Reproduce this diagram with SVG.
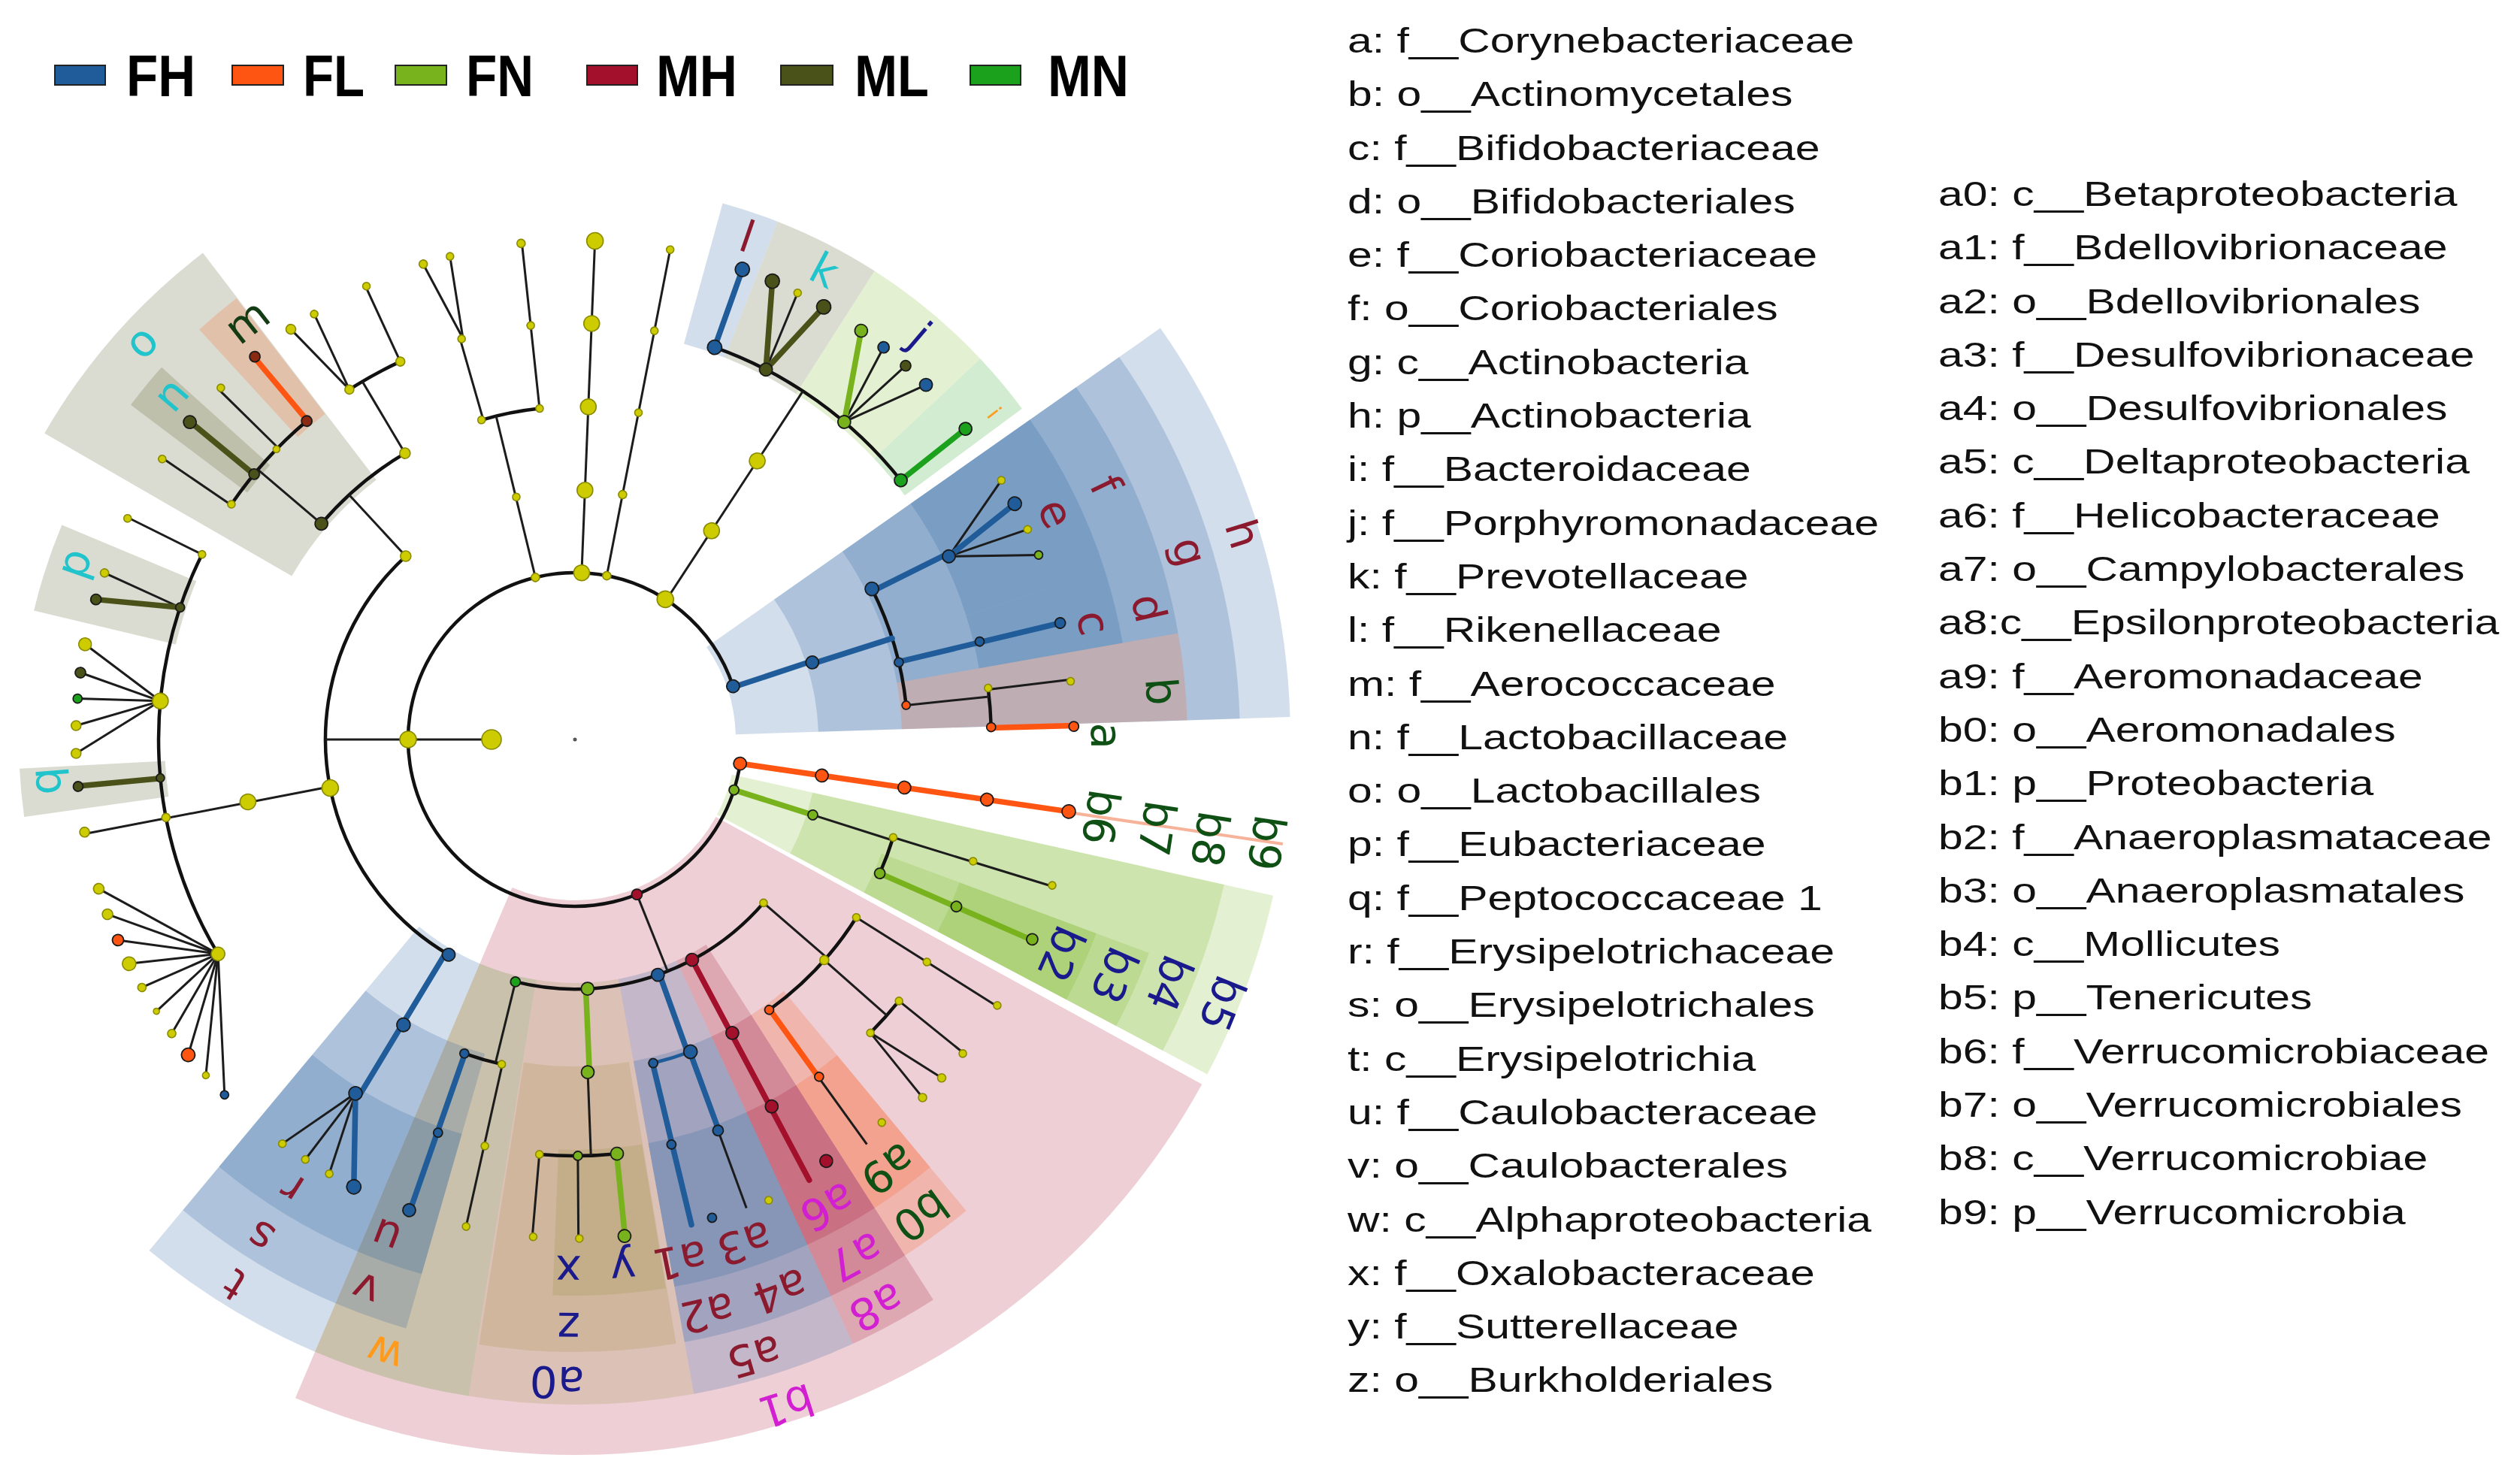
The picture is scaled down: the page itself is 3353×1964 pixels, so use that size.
<svg xmlns="http://www.w3.org/2000/svg" width="3353" height="1964" viewBox="0 0 3353 1964">
<style>
.wd{fill:none;stroke-opacity:0.2}
.ln{stroke:#1c1c1c;stroke-width:3;fill:none}
.ac{fill:none;stroke:#111;stroke-width:4.5}
.tk{stroke-width:7.5;stroke-linecap:round;fill:none}
.sFH{stroke:#1f5c99}.sFL{stroke:#ff5512}.sFN{stroke:#78b31e}.sMH{stroke:#a3102c}.sML{stroke:#4a5219}.sMN{stroke:#1ba11b}.sWW{stroke:#3f8a08}.sKK{stroke:#9a8a3a}
.n{stroke:#1a1a1a;stroke-width:1.8}
.fFH{fill:#1f5c99}.fFL{fill:#ff5512}.fFN{fill:#78b31e}.fMH{fill:#a3102c}.fML{fill:#4a5219}.fMN{fill:#1ba11b}.fBR{fill:#8a2a12}
.Y{fill:#cccc00;stroke:#8a8a00;stroke-width:1.6}
.lb{font-family:"DejaVu Sans",Verdana,sans-serif;font-size:58px;text-anchor:middle;dominant-baseline:central}
.dr{fill:#8b1a2e}.dg{fill:#0f5014}.nv{fill:#1a1a8c}.cy{fill:#22c4cc}.mg{fill:#d21fd2}.or{fill:#ff9a1a}.mk{fill:#143c14}
.li{font-family:"Liberation Sans",Arial,sans-serif;font-size:46px;fill:#111}
.lg{font-family:"Liberation Sans",Arial,sans-serif;font-size:77px;font-weight:bold;fill:#000}
</style>
<rect width="3353" height="1964" fill="#fff"/>
<g id="legend">
<rect x="73" y="87" width="67" height="26" class="fFH" stroke="#222" stroke-width="2"/>
<text class="lg" x="168" y="128" textLength="92" lengthAdjust="spacingAndGlyphs">FH</text>
<rect x="309" y="87" width="68" height="26" class="fFL" stroke="#222" stroke-width="2"/>
<text class="lg" x="403" y="128" textLength="82" lengthAdjust="spacingAndGlyphs">FL</text>
<rect x="526" y="87" width="68" height="26" class="fFN" stroke="#222" stroke-width="2"/>
<text class="lg" x="620" y="128" textLength="90" lengthAdjust="spacingAndGlyphs">FN</text>
<rect x="781" y="87" width="67" height="26" class="fMH" stroke="#222" stroke-width="2"/>
<text class="lg" x="873" y="128" textLength="108" lengthAdjust="spacingAndGlyphs">MH</text>
<rect x="1039" y="87" width="69" height="26" class="fML" stroke="#222" stroke-width="2"/>
<text class="lg" x="1137" y="128" textLength="99" lengthAdjust="spacingAndGlyphs">ML</text>
<rect x="1291" y="87" width="67" height="26" class="fMN" stroke="#222" stroke-width="2"/>
<text class="lg" x="1394" y="128" textLength="108" lengthAdjust="spacingAndGlyphs">MN</text>
</g>
<g id="key1" transform="translate(1793 0) scale(1.28 1)">
<text class="li" y="70">a: f__Corynebacteriaceae</text>
<text class="li" y="141.3">b: o__Actinomycetales</text>
<text class="li" y="212.6">c: f__Bifidobacteriaceae</text>
<text class="li" y="283.9">d: o__Bifidobacteriales</text>
<text class="li" y="355.2">e: f__Coriobacteriaceae</text>
<text class="li" y="426.5">f: o__Coriobacteriales</text>
<text class="li" y="497.8">g: c__Actinobacteria</text>
<text class="li" y="569.1">h: p__Actinobacteria</text>
<text class="li" y="640.4">i: f__Bacteroidaceae</text>
<text class="li" y="711.7">j: f__Porphyromonadaceae</text>
<text class="li" y="783">k: f__Prevotellaceae</text>
<text class="li" y="854.3">l: f__Rikenellaceae</text>
<text class="li" y="925.6">m: f__Aerococcaceae</text>
<text class="li" y="996.9">n: f__Lactobacillaceae</text>
<text class="li" y="1068.2">o: o__Lactobacillales</text>
<text class="li" y="1139.5">p: f__Eubacteriaceae</text>
<text class="li" y="1210.8">q: f__Peptococcaceae 1</text>
<text class="li" y="1282.1">r: f__Erysipelotrichaceae</text>
<text class="li" y="1353.4">s: o__Erysipelotrichales</text>
<text class="li" y="1424.7">t: c__Erysipelotrichia</text>
<text class="li" y="1496">u: f__Caulobacteraceae</text>
<text class="li" y="1567.3">v: o__Caulobacterales</text>
<text class="li" y="1638.6">w: c__Alphaproteobacteria</text>
<text class="li" y="1709.9">x: f__Oxalobacteraceae</text>
<text class="li" y="1781.2">y: f__Sutterellaceae</text>
<text class="li" y="1852.5">z: o__Burkholderiales</text>
</g>
<g id="key2" transform="translate(2579 0) scale(1.28 1)">
<text class="li" y="274">a0: c__Betaproteobacteria</text>
<text class="li" y="345.3">a1: f__Bdellovibrionaceae</text>
<text class="li" y="416.6">a2: o__Bdellovibrionales</text>
<text class="li" y="487.9">a3: f__Desulfovibrionaceae</text>
<text class="li" y="559.2">a4: o__Desulfovibrionales</text>
<text class="li" y="630.5">a5: c__Deltaproteobacteria</text>
<text class="li" y="701.8">a6: f__Helicobacteraceae</text>
<text class="li" y="773.1">a7: o__Campylobacterales</text>
<text class="li" y="844.4">a8:c__Epsilonproteobacteria</text>
<text class="li" y="915.7">a9: f__Aeromonadaceae</text>
<text class="li" y="987">b0: o__Aeromonadales</text>
<text class="li" y="1058.3">b1: p__Proteobacteria</text>
<text class="li" y="1129.6">b2: f__Anaeroplasmataceae</text>
<text class="li" y="1200.9">b3: o__Anaeroplasmatales</text>
<text class="li" y="1272.2">b4: c__Mollicutes</text>
<text class="li" y="1343.5">b5: p__Tenericutes</text>
<text class="li" y="1414.8">b6: f__Verrucomicrobiaceae</text>
<text class="li" y="1486.1">b7: o__Verrucomicrobiales</text>
<text class="li" y="1557.4">b8: c__Verrucomicrobiae</text>
<text class="li" y="1628.7">b9: p__Verrucomicrobia</text>
</g>
<g id="cladogram" transform="translate(765 984)">
<g id="shading">
<circle class="wd sFH" r="583" stroke-width="738" pathLength="360" stroke-dasharray="33.3 720" transform="rotate(324.9)"/>
<circle class="wd sFN" r="583" stroke-width="738" pathLength="360" stroke-dasharray="15.3 720" transform="rotate(12.6)"/>
<circle class="wd sMH" r="583" stroke-width="738" pathLength="360" stroke-dasharray="84.2 720" transform="rotate(28.8)"/>
<circle class="wd sFH" r="604.5" stroke-width="561" pathLength="360" stroke-dasharray="33.3 720" transform="rotate(324.9)"/>
<circle class="wd sFN" r="604.5" stroke-width="561" pathLength="360" stroke-dasharray="15.3 720" transform="rotate(12.6)"/>
<circle class="wd sMH" r="604.5" stroke-width="561" pathLength="360" stroke-dasharray="7.9 720" transform="rotate(57.4)"/>
<circle class="wd sFH" r="604.5" stroke-width="561" pathLength="360" stroke-dasharray="14.4 720" transform="rotate(65.3)"/>
<circle class="wd sKK" r="604.5" stroke-width="561" pathLength="360" stroke-dasharray="19.5 720" transform="rotate(79.7)"/>
<circle class="wd sWW" r="604.5" stroke-width="561" pathLength="360" stroke-dasharray="13.8 720" transform="rotate(99.2)"/>
<circle class="wd sFH" r="604.5" stroke-width="561" pathLength="360" stroke-dasharray="16.8 720" transform="rotate(113)"/>
<circle class="wd sFH" r="625" stroke-width="380" pathLength="360" stroke-dasharray="17.5 720" transform="rotate(324.9)"/>
<circle class="wd sFH" r="625" stroke-width="380" pathLength="360" stroke-dasharray="7.6 720" transform="rotate(342.4)"/>
<circle class="wd sFL" r="625" stroke-width="380" pathLength="360" stroke-dasharray="8.2 720" transform="rotate(350)"/>
<circle class="wd sFN" r="625" stroke-width="380" pathLength="360" stroke-dasharray="7.5 720" transform="rotate(20.4)"/>
<circle class="wd sFL" r="625" stroke-width="380" pathLength="360" stroke-dasharray="7.1 720" transform="rotate(50.3)"/>
<circle class="wd sMH" r="625" stroke-width="380" pathLength="360" stroke-dasharray="7.9 720" transform="rotate(57.4)"/>
<circle class="wd sFH" r="625" stroke-width="380" pathLength="360" stroke-dasharray="8.3 720" transform="rotate(65.3)"/>
<circle class="wd sFH" r="625" stroke-width="380" pathLength="360" stroke-dasharray="6.1 720" transform="rotate(73.6)"/>
<circle class="wd sKK" r="625" stroke-width="380" pathLength="360" stroke-dasharray="18.5 720" transform="rotate(80.5)"/>
<circle class="wd sFH" r="625" stroke-width="380" pathLength="360" stroke-dasharray="7 720" transform="rotate(106)"/>
<circle class="wd sFH" r="625" stroke-width="380" pathLength="360" stroke-dasharray="16.8 720" transform="rotate(113)"/>
<circle class="wd sML" r="625" stroke-width="380" pathLength="360" stroke-dasharray="22.6 720" transform="rotate(210)"/>
<circle class="wd sFH" r="643" stroke-width="194" pathLength="360" stroke-dasharray="17.5 720" transform="rotate(324.9)"/>
<circle class="wd sFH" r="643" stroke-width="194" pathLength="360" stroke-dasharray="7.6 720" transform="rotate(342.4)"/>
<circle class="wd sFN" r="643" stroke-width="194" pathLength="360" stroke-dasharray="7.5 720" transform="rotate(20.4)"/>
<circle class="wd sFL" r="643" stroke-width="194" pathLength="360" stroke-dasharray="7.1 720" transform="rotate(50.3)"/>
<circle class="wd sMH" r="643" stroke-width="194" pathLength="360" stroke-dasharray="7.9 720" transform="rotate(57.4)"/>
<circle class="wd sFH" r="643" stroke-width="194" pathLength="360" stroke-dasharray="8.3 720" transform="rotate(65.3)"/>
<circle class="wd sFH" r="643" stroke-width="194" pathLength="360" stroke-dasharray="6.1 720" transform="rotate(73.6)"/>
<circle class="wd sKK" r="643" stroke-width="194" pathLength="360" stroke-dasharray="6.1 720" transform="rotate(80.6)"/>
<circle class="wd sKK" r="643" stroke-width="194" pathLength="360" stroke-dasharray="5.6 720" transform="rotate(86.7)"/>
<circle class="wd sFH" r="643" stroke-width="194" pathLength="360" stroke-dasharray="7 720" transform="rotate(106)"/>
<circle class="wd sFH" r="643" stroke-width="194" pathLength="360" stroke-dasharray="16.8 720" transform="rotate(113)"/>
<circle class="wd sML" r="643" stroke-width="194" pathLength="360" stroke-dasharray="5 720" transform="rotate(172)"/>
<circle class="wd sML" r="643" stroke-width="194" pathLength="360" stroke-dasharray="9.3 720" transform="rotate(193.4)"/>
<circle class="wd sML" r="643" stroke-width="194" pathLength="360" stroke-dasharray="5 720" transform="rotate(217)"/>
<circle class="wd sFL" r="643" stroke-width="194" pathLength="360" stroke-dasharray="5 720" transform="rotate(227.5)"/>
<circle class="wd sFH" r="643" stroke-width="194" pathLength="360" stroke-dasharray="6 720" transform="rotate(285.4)"/>
<circle class="wd sML" r="643" stroke-width="194" pathLength="360" stroke-dasharray="11.2 720" transform="rotate(291.4)"/>
<circle class="wd sFN" r="643" stroke-width="194" pathLength="360" stroke-dasharray="14.2 720" transform="rotate(302.6)"/>
<circle class="wd sMN" r="643" stroke-width="194" pathLength="360" stroke-dasharray="6.7 720" transform="rotate(316.8)"/>
<line x1="664" x2="952" transform="rotate(8.4)" stroke="#f7b39a" stroke-width="4"/>
</g>
<g id="connectors">
<circle class="ac" r="222" stroke-width="5.5" pathLength="360" stroke-dasharray="333.1 720" transform="rotate(8.3)"/>
<circle class="ac" r="443" stroke-width="3.5" pathLength="360" stroke-dasharray="6.6 720" transform="rotate(17.1)"/>
<circle class="ac" r="332" stroke-width="4.5" pathLength="360" stroke-dasharray="62.9 720" transform="rotate(40.9)"/>
<circle class="ac" r="443" stroke-width="4" pathLength="360" stroke-dasharray="22 720" transform="rotate(32.3)"/>
<circle class="ac" r="554" stroke-width="4" pathLength="360" stroke-dasharray="5.9 720" transform="rotate(38.9)"/>
<circle class="ac" r="554" stroke-width="4" pathLength="360" stroke-dasharray="10.7 720" transform="rotate(84.2)"/>
<circle class="ac" r="443" stroke-width="3.5" pathLength="360" stroke-dasharray="6.7 720" transform="rotate(102.7)"/>
<circle class="ac" r="332" stroke-width="5.5" pathLength="360" stroke-dasharray="106.9 720" transform="rotate(120.4)"/>
<circle class="ac" r="554" stroke-width="5" pathLength="360" stroke-dasharray="57.4 720" transform="rotate(149)"/>
<circle class="ac" r="443" stroke-width="4.5" pathLength="360" stroke-dasharray="18.9 720" transform="rotate(220.4)"/>
<circle class="ac" r="554" stroke-width="4" pathLength="360" stroke-dasharray="15.5 720" transform="rotate(214.4)"/>
<circle class="ac" r="554" stroke-width="4" pathLength="360" stroke-dasharray="8 720" transform="rotate(237.2)"/>
<circle class="ac" r="443" stroke-width="4.5" pathLength="360" stroke-dasharray="10.2 720" transform="rotate(253.7)"/>
<circle class="ac" r="554" stroke-width="4.5" pathLength="360" stroke-dasharray="31.9 720" transform="rotate(289.6)"/>
<circle class="ac" r="443" stroke-width="4" pathLength="360" stroke-dasharray="21 720" transform="rotate(333.1)"/>
<circle class="ac" r="554" stroke-width="4" pathLength="360" stroke-dasharray="5.4 720" transform="rotate(352.9)"/>
<circle class="ac sFH" r="443" stroke-width="3.5" pathLength="360" stroke-dasharray="6.7 720" transform="rotate(69.7)"/>
<line class="ln" x1="111" x2="222" transform="rotate(180)" stroke="#555"/>
<line class="ln" x1="222" x2="332" transform="rotate(180)"/>
<line class="ln" x1="222" x2="332" transform="rotate(68.2)"/>
<line class="ln" x1="222" x2="443" transform="rotate(256.3)"/>
<line class="ln" x1="222" x2="664" transform="rotate(272.3)"/>
<line class="ln" x1="222" x2="664" transform="rotate(281)"/>
<line class="ln" x1="222" x2="554" transform="rotate(303.2)"/>
<line class="ln" x1="332" x2="443" transform="rotate(17.6)"/>
<line class="ln" x1="443" x2="664" transform="rotate(17.1)"/>
<line class="ln" x1="332" x2="443" transform="rotate(40.9)"/>
<line class="ln" x1="443" x2="664" transform="rotate(32.3)"/>
<line class="ln" x1="443" x2="554" transform="rotate(41.5)"/>
<line class="ln" x1="554" x2="664" transform="rotate(38.9)"/>
<line class="ln" x1="553.6" y1="20.3" x2="664" transform="rotate(42.7)"/>
<line class="ln" x1="553.9" y1="-10.2" x2="664" transform="rotate(45.85)"/>
<line class="ln" x1="554" x2="664" transform="rotate(54.2)"/>
<line class="ln" x1="554" x2="664" transform="rotate(69.9)"/>
<line class="ln" x1="443" x2="554" transform="rotate(87.8)"/>
<line class="ln" x1="554" x2="664" transform="rotate(94.9)"/>
<line class="ln" x1="554" x2="664" transform="rotate(89.6)"/>
<line class="ln" x1="332" x2="443" transform="rotate(103.8)"/>
<line class="ln" x1="443" x2="664" transform="rotate(102.6)"/>
<line class="ln" x1="553.6" y1="22.2" x2="664" transform="rotate(119.5)"/>
<line class="ln" x1="553.9" y1="-8.7" x2="664" transform="rotate(122.7)"/>
<line class="ln" x1="552.6" y1="-39.6" x2="664" transform="rotate(125.9)"/>
<line class="ln" x1="536.6" y1="137.8" x2="664" transform="rotate(134.6)"/>
<line class="ln" x1="543.3" y1="108.6" x2="664" transform="rotate(137.7)"/>
<line class="ln" x1="548.3" y1="79" x2="664" transform="rotate(140.8)"/>
<line class="ln" x1="551.8" y1="49.2" x2="664" transform="rotate(143.9)"/>
<line class="ln" x1="553.7" y1="19.3" x2="664" transform="rotate(147)"/>
<line class="ln" x1="553.9" y1="-11.6" x2="664" transform="rotate(150.2)"/>
<line class="ln" x1="552.4" y1="-41.5" x2="664" transform="rotate(153.3)"/>
<line class="ln" x1="549.5" y1="-70.4" x2="664" transform="rotate(156.3)"/>
<line class="ln" x1="544.7" y1="-101" x2="664" transform="rotate(159.5)"/>
<line class="ln" x1="538.5" y1="-130.3" x2="664" transform="rotate(162.6)"/>
<line class="ln" x1="332" x2="664" transform="rotate(169.1)"/>
<line class="ln" x1="550" y1="66.6" x2="664" transform="rotate(178.4)"/>
<line class="ln" x1="552.8" y1="35.7" x2="664" transform="rotate(181.6)"/>
<line class="ln" x1="554" y1="5.8" x2="664" transform="rotate(184.7)"/>
<line class="ln" x1="553.5" y1="-23.2" x2="664" transform="rotate(187.7)"/>
<line class="ln" x1="551.3" y1="-55" x2="664" transform="rotate(191)"/>
<line class="ln" x1="553.9" y1="-9.7" x2="664" transform="rotate(199.5)"/>
<line class="ln" x1="554" x2="664" transform="rotate(206.4)"/>
<line class="ln" x1="332" x2="443" transform="rotate(227.3)"/>
<line class="ln" x1="443" x2="554" transform="rotate(220.4)"/>
<line class="ln" x1="554" x2="664" transform="rotate(214.3)"/>
<line class="ln" x1="554" x2="664" transform="rotate(224.5)"/>
<line class="ln" x1="443" x2="554" transform="rotate(239.3)"/>
<line class="ln" x1="553.7" y1="18.4" x2="664" transform="rotate(235.3)"/>
<line class="ln" x1="553.9" y1="-12.6" x2="664" transform="rotate(238.5)"/>
<line class="ln" x1="554" x2="664" transform="rotate(245.2)"/>
<line class="ln" x1="443" x2="554" transform="rotate(254)"/>
<line class="ln" x1="553.6" y1="20.3" x2="664" transform="rotate(252.3)"/>
<line class="ln" x1="553.9" y1="-10.6" x2="664" transform="rotate(255.5)"/>
<line class="ln" x1="443" x2="664" transform="rotate(263.9)"/>
<line class="ln" x1="553.9" y1="7.7" x2="664" transform="rotate(296.5)"/>
<line class="ln" x1="553.6" y1="20.3" x2="664" transform="rotate(308.2)"/>
<line class="ln" x1="553.9" y1="-11.6" x2="664" transform="rotate(311.5)"/>
<line class="ln" x1="552.4" y1="-42.5" x2="664" transform="rotate(314.7)"/>
<line class="ln" x1="551.7" y1="50.2" x2="664" transform="rotate(328.7)"/>
<line class="ln" x1="553.9" y1="-11.6" x2="664" transform="rotate(335.1)"/>
<line class="ln" x1="552.4" y1="-42.5" x2="664" transform="rotate(338.3)"/>
<line class="ln" x1="443" x2="554" transform="rotate(354.1)"/>
<line class="ln" x1="554" x2="664" transform="rotate(353.1)"/>
<line class="tk sFL" x1="222" x2="664" transform="rotate(8.3)"/>
<line class="tk sFN" x1="222" x2="332" transform="rotate(17.6)"/>
<line class="tk sFN" x1="443" x2="664" transform="rotate(23.7)"/>
<line class="tk sFL" x1="443" x2="554" transform="rotate(54.2)"/>
<line class="tk sMH" x1="332" x2="664" transform="rotate(62)"/>
<line class="tk sFH" x1="332" x2="443" transform="rotate(70.2)"/>
<line class="tk sFH" x1="443" x2="554" transform="rotate(69.8)"/>
<line class="tk sFH" x1="443" x2="664" transform="rotate(76.5)"/>
<line class="tk sFN" x1="332" x2="443" transform="rotate(87.5)"/>
<line class="tk sFN" x1="554" x2="664" transform="rotate(84.25)"/>
<line class="tk sFH" x1="443" x2="664" transform="rotate(109.3)"/>
<line class="tk sFH" x1="332" x2="554" transform="rotate(121.2)"/>
<line class="tk sFH" x1="551.5" y1="53.1" x2="664" transform="rotate(116.3)"/>
<line class="tk sML" x1="554" x2="664" transform="rotate(174.65)"/>
<line class="tk sML" x1="553.6" y1="21.3" x2="664" transform="rotate(196.3)"/>
<line class="tk sML" x1="554" x2="664" transform="rotate(219.55)"/>
<line class="tk sFL" x1="554" x2="664" transform="rotate(230)"/>
<line class="tk sFH" x1="554" x2="664" transform="rotate(289.6)"/>
<line class="tk sML" x1="552.6" y1="38.6" x2="664" transform="rotate(293.3)"/>
<line class="tk sML" x1="553.4" y1="-25.1" x2="664" transform="rotate(299.9)"/>
<line class="tk sFN" x1="551.6" y1="51.2" x2="664" transform="rotate(305)"/>
<line class="tk sMN" x1="554" x2="664" transform="rotate(321.5)"/>
<line class="tk sFH" x1="222" x2="332" transform="rotate(341.7)"/>
<line class="tk sFH" x1="332" x2="443" transform="rotate(342.3)" stroke-width="5.5"/>
<line class="tk sFH" x1="443" x2="554" transform="rotate(333.5)"/>
<line class="tk sFH" x1="553.6" y1="20.3" x2="664" transform="rotate(331.8)"/>
<line class="tk sFH" x1="443" x2="664" transform="rotate(346.5)"/>
<line class="tk sFL" x1="554" x2="664" transform="rotate(358.4)"/>
</g>
<g id="nodes">
<circle id="root" r="2.5" fill="#555"/>
<circle id="kingdom" class="Y" cx="111" r="13" transform="rotate(180)"/>
<circle id="p-b9" class="n fFL" cx="222" r="8.5" transform="rotate(8.3)"/>
<circle id="p-b5" class="n fFN" cx="222" r="6.5" transform="rotate(17.6)"/>
<circle id="p-b1" class="n fMH" cx="222" r="7" transform="rotate(68.2)"/>
<circle id="p-firm" class="Y" cx="222" r="11" transform="rotate(180)"/>
<circle id="p-a" class="Y" cx="222" r="5.5" transform="rotate(256.3)"/>
<circle id="p-b" class="Y" cx="222" r="10.5" transform="rotate(272.3)"/>
<circle id="p-c" class="Y" cx="222" r="5.5" transform="rotate(281)"/>
<circle id="p-bact" class="Y" cx="222" r="11" transform="rotate(302.8)"/>
<circle id="p-h" class="n fFH" cx="222" r="8.5" transform="rotate(341.4)"/>
<circle id="c-b8" class="n fFL" cx="332" r="8.5" transform="rotate(8.3)"/>
<circle id="o-b7" class="n fFL" cx="443" r="8.5" transform="rotate(8.3)"/>
<circle id="f-b6" class="n fFL" cx="554" r="8.5" transform="rotate(8.3)"/>
<circle id="g-b6" class="n fFL" cx="664" r="9" transform="rotate(8.3)"/>
<circle id="c-b4" class="n fFN" cx="332" r="6.5" transform="rotate(17.6)"/>
<circle id="o-t1" class="Y" cx="443" r="5" transform="rotate(17.1)"/>
<circle id="f-t1" class="Y" cx="554" r="5" transform="rotate(17)"/>
<circle id="g-t1" class="Y" cx="664" r="5" transform="rotate(17)"/>
<circle id="o-b3" class="n fFN" cx="443" r="7" transform="rotate(23.7)"/>
<circle id="f-b2" class="n fFN" cx="554" r="7" transform="rotate(23.65)"/>
<circle id="g-b2" class="n fFN" cx="664" r="7.5" transform="rotate(23.6)"/>
<circle id="c-gam" class="Y" cx="332" r="5" transform="rotate(40.9)"/>
<circle id="o-g1" class="Y" cx="443" r="5" transform="rotate(32.3)"/>
<circle id="f-g1" class="Y" cx="554" r="5" transform="rotate(32.3)"/>
<circle id="g-g1" class="Y" cx="664" r="5" transform="rotate(32.2)"/>
<circle id="o-g2" class="Y" cx="443" r="6" transform="rotate(41.5)"/>
<circle id="f-g2" class="Y" cx="554" r="5" transform="rotate(38.9)"/>
<circle id="g-g2" class="Y" cx="664" r="5" transform="rotate(39)"/>
<circle id="f-g3" class="Y" cx="554" r="5" transform="rotate(44.8)"/>
<circle id="g-g3" class="Y" cx="664" r="5.5" transform="rotate(42.7)"/>
<circle id="g-g4" class="Y" cx="664" r="5.5" transform="rotate(45.85)"/>
<circle id="o-b0" class="n fFL" cx="443" r="6" transform="rotate(54.3)"/>
<circle id="f-a9" class="n fFL" cx="554" r="6" transform="rotate(54.1)"/>
<circle id="g-a9" class="Y" cx="653" r="5" transform="rotate(51.3)"/>
<circle id="c-a8" class="n fMH" cx="332" r="8.5" transform="rotate(62)"/>
<circle id="o-a7" class="n fMH" cx="443" r="8.5" transform="rotate(61.8)"/>
<circle id="f-a6" class="n fMH" cx="554" r="8.5" transform="rotate(61.8)"/>
<circle id="g-a6" class="n fMH" cx="653" r="8.5" transform="rotate(59.2)"/>
<circle id="c-a5" class="n fFH" cx="332" r="8.5" transform="rotate(70.6)"/>
<circle id="o-a4" class="n fFH" cx="443" r="9" transform="rotate(69.7)"/>
<circle id="f-a3" class="n fFH" cx="554" r="7" transform="rotate(69.9)"/>
<circle id="g-a3" class="Y" cx="665" r="5" transform="rotate(67.2)"/>
<circle id="o-a2" class="n fFH" cx="443" r="6" transform="rotate(76.4)"/>
<circle id="f-a1" class="n fFH" cx="554" r="6" transform="rotate(76.6)"/>
<circle id="g-a1" class="n fFH" cx="662" r="6" transform="rotate(74)"/>
<circle id="c-a0" class="n fFN" cx="332" r="8.5" transform="rotate(87.1)"/>
<circle id="o-z" class="n fFN" cx="443" r="8.5" transform="rotate(87.8)"/>
<circle id="f-b1" class="Y" cx="554" r="5" transform="rotate(94.9)"/>
<circle id="g-b1" class="Y" cx="664" r="5" transform="rotate(94.8)"/>
<circle id="f-x" class="n fFN" cx="554" r="6" transform="rotate(89.6)"/>
<circle id="g-x" class="Y" cx="664" r="5" transform="rotate(89.5)"/>
<circle id="f-y" class="n fFN" cx="554" r="8.5" transform="rotate(84.2)"/>
<circle id="g-y" class="n fFN" cx="664" r="8.5" transform="rotate(84.3)"/>
<circle id="c-w" class="n fMN" cx="332" r="6.5" transform="rotate(103.8)"/>
<circle id="o-w1" class="Y" cx="443" r="5" transform="rotate(102.7)"/>
<circle id="f-w1" class="Y" cx="554" r="5" transform="rotate(102.5)"/>
<circle id="g-w1" class="Y" cx="664" r="5" transform="rotate(102.6)"/>
<circle id="o-v" class="n fFH" cx="443" r="6" transform="rotate(109.4)"/>
<circle id="f-u" class="n fFH" cx="554" r="6" transform="rotate(109.2)"/>
<circle id="g-u" class="n fFH" cx="664" r="8.5" transform="rotate(109.4)"/>
<circle id="c-t" class="n fFH" cx="332" r="8.5" transform="rotate(120.4)"/>
<circle id="o-s" class="n fFH" cx="443" r="9" transform="rotate(121)"/>
<circle id="f-r" class="n fFH" cx="554" r="9" transform="rotate(121.8)"/>
<circle id="g-r1" class="n fFH" cx="664" r="9.5" transform="rotate(116.3)"/>
<circle id="g-r2" class="Y" cx="664" r="5" transform="rotate(119.5)"/>
<circle id="g-r3" class="Y" cx="664" r="5" transform="rotate(122.7)"/>
<circle id="g-r4" class="Y" cx="664" r="5" transform="rotate(125.9)"/>
<circle id="c-clo" class="Y" cx="332" r="11" transform="rotate(168.8)"/>
<circle id="o-clo" class="Y" cx="443" r="10.5" transform="rotate(169.2)"/>
<circle id="f-c2" class="Y" cx="554" r="5.5" transform="rotate(169.2)"/>
<circle id="g-c2" class="Y" cx="664" r="6.5" transform="rotate(169.3)"/>
<circle id="f-c1" class="Y" cx="554" r="9" transform="rotate(149)"/>
<circle id="g-c1a" class="n fFH" cx="664" r="5.5" transform="rotate(134.6)"/>
<circle id="g-c1b" class="Y" cx="664" r="4.5" transform="rotate(137.7)"/>
<circle id="g-c1c" class="n fFL" cx="664" r="9" transform="rotate(140.8)"/>
<circle id="g-c1d" class="Y" cx="664" r="5.5" transform="rotate(143.9)"/>
<circle id="g-c1e" class="Y" cx="664" r="4" transform="rotate(147)"/>
<circle id="g-c1f" class="Y" cx="664" r="5.5" transform="rotate(150.2)"/>
<circle id="g-c1g" class="Y" cx="664" r="9" transform="rotate(153.3)"/>
<circle id="g-c1h" class="n fFL" cx="664" r="7.5" transform="rotate(156.3)"/>
<circle id="g-c1i" class="Y" cx="664" r="7" transform="rotate(159.5)"/>
<circle id="g-c1j" class="Y" cx="664" r="7" transform="rotate(162.6)"/>
<circle id="f-q" class="n fML" cx="554" r="5.5" transform="rotate(174.7)"/>
<circle id="g-q" class="n fML" cx="664" r="6.5" transform="rotate(174.6)"/>
<circle id="f-c3" class="Y" cx="554" r="10.5" transform="rotate(185.3)"/>
<circle id="g-c3a" class="Y" cx="664" r="6.5" transform="rotate(178.4)"/>
<circle id="g-c3b" class="Y" cx="664" r="6.5" transform="rotate(181.6)"/>
<circle id="g-c3c" class="n fMN" cx="664" r="6" transform="rotate(184.7)"/>
<circle id="g-c3d" class="n fML" cx="664" r="7" transform="rotate(187.7)"/>
<circle id="g-c3e" class="Y" cx="664" r="8.5" transform="rotate(191)"/>
<circle id="f-p" class="n fML" cx="554" r="6" transform="rotate(198.5)"/>
<circle id="g-p1" class="n fML" cx="664" r="7" transform="rotate(196.3)"/>
<circle id="g-p2" class="Y" cx="664" r="5.5" transform="rotate(199.5)"/>
<circle id="f-c4" class="Y" cx="554" r="5" transform="rotate(206.4)"/>
<circle id="g-c4" class="Y" cx="664" r="5" transform="rotate(206.3)"/>
<circle id="c-bac" class="Y" cx="332" r="7" transform="rotate(227.3)"/>
<circle id="o-o" class="n fML" cx="443" r="8.5" transform="rotate(220.4)"/>
<circle id="f-o1" class="Y" cx="554" r="5" transform="rotate(214.4)"/>
<circle id="g-o1" class="Y" cx="664" r="5" transform="rotate(214.2)"/>
<circle id="f-n" class="n fML" cx="554" r="7" transform="rotate(219.6)"/>
<circle id="g-n" class="n fML" cx="664" r="8.5" transform="rotate(219.5)"/>
<circle id="f-o2" class="Y" cx="554" r="4.5" transform="rotate(224.2)"/>
<circle id="g-o2" class="Y" cx="664" r="5" transform="rotate(224.8)"/>
<circle id="f-m" class="n fBR" cx="554" r="7" transform="rotate(229.9)"/>
<circle id="g-m" class="n fBR" cx="664" r="7" transform="rotate(230.1)"/>
<circle id="o-b2" class="Y" cx="443" r="7" transform="rotate(239.3)"/>
<circle id="f-b2a" class="Y" cx="554" r="6" transform="rotate(237.2)"/>
<circle id="g-b2a" class="Y" cx="664" r="6.5" transform="rotate(235.3)"/>
<circle id="g-b2b" class="Y" cx="664" r="5" transform="rotate(238.5)"/>
<circle id="f-b2c" class="Y" cx="554" r="6" transform="rotate(245.2)"/>
<circle id="g-b2c" class="Y" cx="664" r="5" transform="rotate(245.3)"/>
<circle id="c-pa" class="Y" cx="332" r="5" transform="rotate(256.4)"/>
<circle id="o-pa1" class="Y" cx="443" r="5" transform="rotate(253.7)"/>
<circle id="f-pa1" class="Y" cx="554" r="5" transform="rotate(254.2)"/>
<circle id="g-pa1" class="Y" cx="664" r="5.5" transform="rotate(252.3)"/>
<circle id="g-pa2" class="Y" cx="664" r="5" transform="rotate(255.5)"/>
<circle id="o-pa2" class="Y" cx="443" r="5" transform="rotate(263.9)"/>
<circle id="f-pa2" class="Y" cx="554" r="5" transform="rotate(263.9)"/>
<circle id="g-pa3" class="Y" cx="664" r="5.5" transform="rotate(263.8)"/>
<circle id="c-pb" class="Y" cx="332" r="10.5" transform="rotate(272.3)"/>
<circle id="o-pb" class="Y" cx="443" r="10.5" transform="rotate(272.3)"/>
<circle id="f-pb" class="Y" cx="554" r="10.5" transform="rotate(272.3)"/>
<circle id="g-pb" class="Y" cx="664" r="11" transform="rotate(272.3)"/>
<circle id="c-pc" class="Y" cx="332" r="5.5" transform="rotate(281)"/>
<circle id="o-pc" class="Y" cx="443" r="5" transform="rotate(281)"/>
<circle id="f-pc" class="Y" cx="554" r="5" transform="rotate(281)"/>
<circle id="g-pc" class="Y" cx="664" r="5" transform="rotate(281)"/>
<circle id="c-bct" class="Y" cx="332" r="10.5" transform="rotate(303.2)"/>
<circle id="o-bct" class="Y" cx="443" r="10.5" transform="rotate(303.2)"/>
<circle id="f-l" class="n fFH" cx="554" r="9.5" transform="rotate(289.6)"/>
<circle id="g-l" class="n fFH" cx="664" r="9.5" transform="rotate(289.6)"/>
<circle id="f-k" class="n fML" cx="554" r="8.5" transform="rotate(297.3)"/>
<circle id="g-k1" class="n fML" cx="664" r="9.5" transform="rotate(293.3)"/>
<circle id="g-k2" class="Y" cx="664" r="5" transform="rotate(296.5)"/>
<circle id="g-k3" class="n fML" cx="664" r="9.5" transform="rotate(299.9)"/>
<circle id="f-j" class="n fFN" cx="554" r="8.5" transform="rotate(310.3)"/>
<circle id="g-j1" class="n fFN" cx="664" r="8.5" transform="rotate(305)"/>
<circle id="g-j2" class="n fFH" cx="664" r="7.5" transform="rotate(308.2)"/>
<circle id="g-j3" class="n fML" cx="664" r="7" transform="rotate(311.5)"/>
<circle id="g-j4" class="n fFH" cx="664" r="8.5" transform="rotate(314.7)"/>
<circle id="f-i" class="n fMN" cx="554" r="8.5" transform="rotate(321.5)"/>
<circle id="g-i" class="n fMN" cx="664" r="8.5" transform="rotate(321.5)"/>
<circle id="c-g" class="n fFH" cx="332" r="8.5" transform="rotate(342)"/>
<circle id="o-f" class="n fFH" cx="443" r="9" transform="rotate(333.1)"/>
<circle id="f-e" class="n fFH" cx="554" r="8.5" transform="rotate(333.9)"/>
<circle id="g-e1" class="Y" cx="664" r="5" transform="rotate(328.7)"/>
<circle id="g-e2" class="n fFH" cx="664" r="9" transform="rotate(331.8)"/>
<circle id="g-e3" class="Y" cx="664" r="5" transform="rotate(335.1)"/>
<circle id="g-e4" class="n fFN" cx="664" r="5.5" transform="rotate(338.3)"/>
<circle id="o-d" class="n fFH" cx="443" r="6" transform="rotate(346.6)"/>
<circle id="f-c" class="n fFH" cx="554" r="6" transform="rotate(346.4)"/>
<circle id="g-c" class="n fFH" cx="664" r="7" transform="rotate(346.5)"/>
<circle id="o-b" class="n fFL" cx="443" r="5.5" transform="rotate(354.1)"/>
<circle id="f-b0" class="Y" cx="554" r="5" transform="rotate(352.9)"/>
<circle id="g-b0" class="Y" cx="664" r="5" transform="rotate(353.3)"/>
<circle id="f-a" class="n fFL" cx="554" r="6" transform="rotate(358.3)"/>
<circle id="g-a" class="n fFL" cx="664" r="6.5" transform="rotate(358.5)"/>
</g>
<g id="labels">
<text class="lb dg" transform="rotate(359.6) translate(707 0) rotate(90)">a</text>
<text class="lb dg" transform="rotate(355.3) translate(783 0) rotate(90)">b</text>
<text class="lb dr" transform="rotate(347.3) translate(707 0) rotate(90)">c</text>
<text class="lb dr" transform="rotate(347.1) translate(783 0) rotate(90)">d</text>
<text class="lb dr" transform="rotate(334.8) translate(707 0) rotate(90)">e</text>
<text class="lb dr" transform="rotate(334.4) translate(783 0) rotate(90)">f</text>
<text class="lb dr" transform="rotate(343) translate(855 0) rotate(90)">g</text>
<text class="lb dr" transform="rotate(342.9) translate(930 0) rotate(90)">h</text>
<text class="lb or" style="font-size:30px" transform="rotate(322.1) translate(707 0) rotate(90)">i</text>
<text class="lb nv" transform="rotate(310.5) translate(707 0) rotate(90)">j</text>
<text class="lb cy" transform="rotate(298) translate(707 0) rotate(90)">k</text>
<text class="lb dr" transform="rotate(288.9) translate(707 0) rotate(90)">l</text>
<text class="lb mk" transform="rotate(231.9) translate(707 0) rotate(90)">m</text>
<text class="lb cy" transform="rotate(220.5) translate(707 0) rotate(90)">n</text>
<text class="lb cy" transform="rotate(222.5) translate(783 0) rotate(90)">o</text>
<text class="lb cy" transform="rotate(199.4) translate(707 0) rotate(90)">p</text>
<text class="lb cy" transform="rotate(175.5) translate(707 0) rotate(90)">q</text>
<text class="lb dr" transform="rotate(122.2) translate(707 0) rotate(90)">r</text>
<text class="lb dr" transform="rotate(122.3) translate(783 0) rotate(90)">s</text>
<text class="lb dr" transform="rotate(122) translate(855 0) rotate(90)">t</text>
<text class="lb dr" transform="rotate(110.8) translate(707 0) rotate(90)">u</text>
<text class="lb dr" transform="rotate(110.8) translate(783 0) rotate(90)">v</text>
<text class="lb or" transform="rotate(107.2) translate(855 0) rotate(90)">w</text>
<text class="lb nv" transform="rotate(90.7) translate(707 0) rotate(90)">x</text>
<text class="lb nv" transform="rotate(84.8) translate(707 0) rotate(90)">y</text>
<text class="lb nv" transform="rotate(90.6) translate(783 0) rotate(90)">z</text>
<text class="lb nv" transform="rotate(91.6) translate(855 0) rotate(90)">a0</text>
<text class="lb dr" transform="rotate(78.6) translate(707 0) rotate(90)">a1</text>
<text class="lb dr" transform="rotate(77) translate(783 0) rotate(90)">a2</text>
<text class="lb dr" transform="rotate(71.4) translate(707 0) rotate(90)">a3</text>
<text class="lb dr" transform="rotate(69.6) translate(783 0) rotate(90)">a4</text>
<text class="lb dr" transform="rotate(73.8) translate(855 0) rotate(90)">a5</text>
<text class="lb mg" transform="rotate(61.6) translate(707 0) rotate(90)">a6</text>
<text class="lb mg" transform="rotate(61.5) translate(783 0) rotate(90)">a7</text>
<text class="lb mg" transform="rotate(62) translate(855 0) rotate(90)">a8</text>
<text class="lb dg" transform="rotate(53.9) translate(707 0) rotate(90)">a9</text>
<text class="lb dg" transform="rotate(54) translate(783 0) rotate(90)">b0</text>
<text class="lb mg" transform="rotate(72.4) translate(930 0) rotate(90)">b1</text>
<text class="lb nv" transform="rotate(23.8) translate(707 0) rotate(90)">b2</text>
<text class="lb nv" transform="rotate(23.6) translate(783 0) rotate(90)">b3</text>
<text class="lb nv" transform="rotate(22.3) translate(855 0) rotate(90)">b4</text>
<text class="lb nv" transform="rotate(22.2) translate(930 0) rotate(90)">b5</text>
<text class="lb dg" transform="rotate(8.4) translate(707 0) rotate(90)">b6</text>
<text class="lb dg" transform="rotate(8.7) translate(783 0) rotate(90)">b7</text>
<text class="lb dg" transform="rotate(8.9) translate(855 0) rotate(90)">b8</text>
<text class="lb dg" transform="rotate(8.5) translate(930 0) rotate(90)">b9</text>
</g>
</g>
</svg>
